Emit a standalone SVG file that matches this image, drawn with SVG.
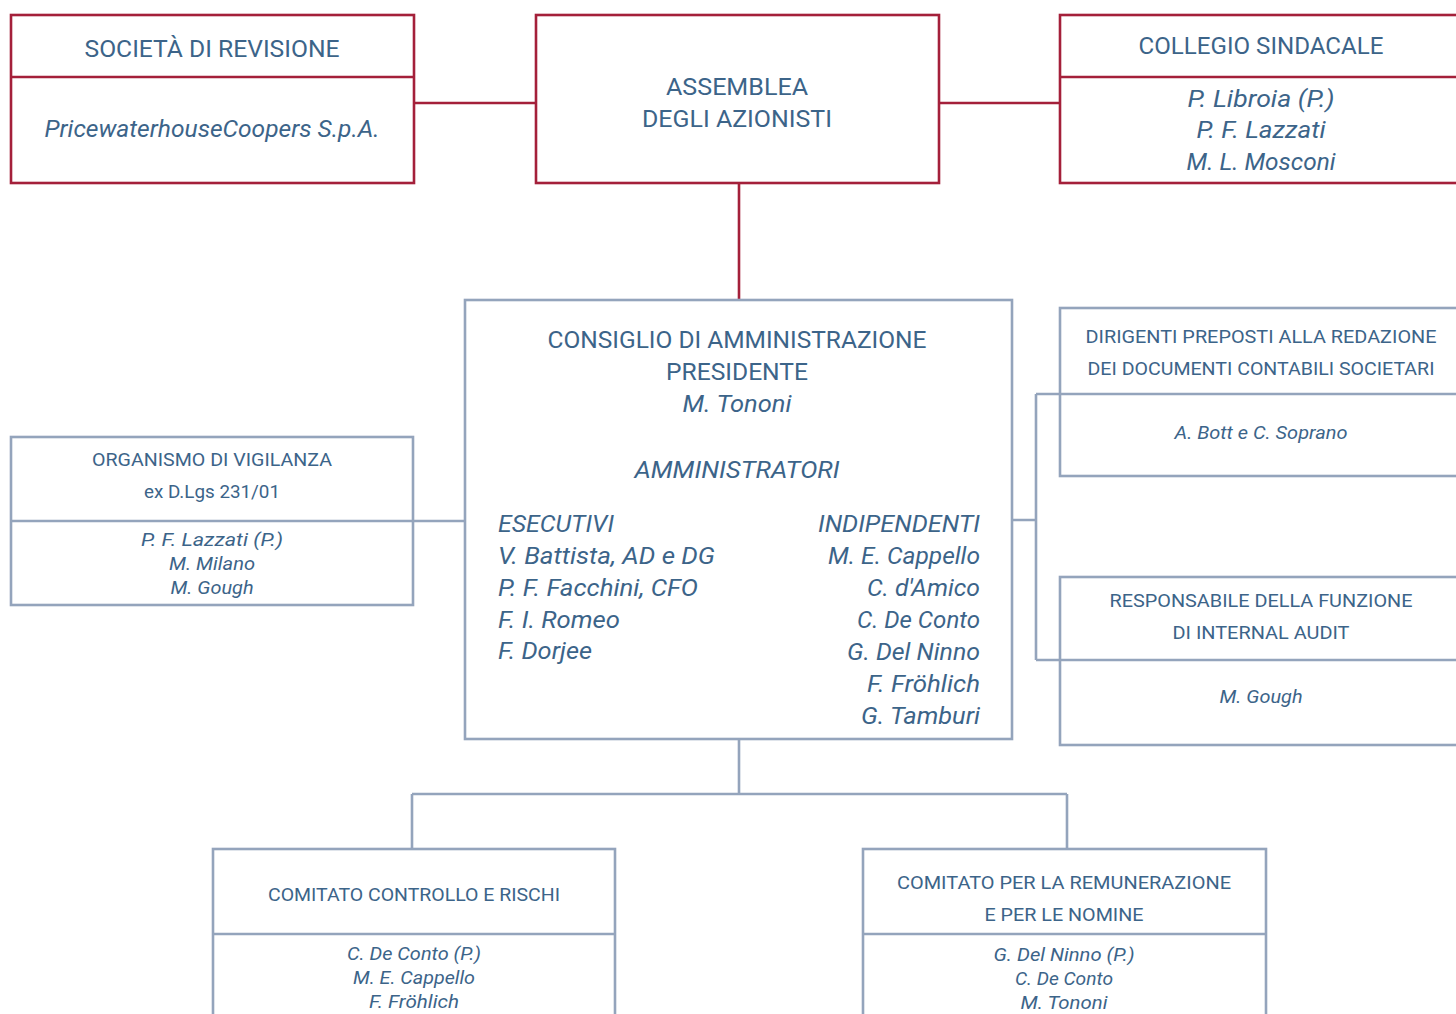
<svg xmlns="http://www.w3.org/2000/svg" width="1456" height="1014" viewBox="0 0 1456 1014">
<style>
.t{font-family:Roboto,"Open Sans","Liberation Sans",sans-serif;fill:#3c6489;text-anchor:middle}
.e{text-anchor:end}
.s{text-anchor:start}
.i{font-style:italic}
.l{font-size:24px}
.m{font-size:22px}
.n{font-size:19px}
.r{fill:#fff;stroke:#a4203a;stroke-width:2.6}
.rl{fill:none;stroke:#a4203a;stroke-width:2.6}
.b{fill:#fff;stroke:#94a4bc;stroke-width:2.6}
.bl{fill:none;stroke:#94a4bc;stroke-width:2.6}
</style>
<rect width="1456" height="1014" fill="#fff"/>
<g id="connectors">
<path class="rl" d="M414 103H536M939 103H1060M739 183V300"/>
<path class="bl" d="M413 521H465M1012 520H1036M1036 394V660M1036 394H1060M1036 660H1060M739 739V794M412 794H1067M412 794V849M1067 794V849"/>
</g>
<g id="societa-revisione">
<rect class="r" x="11" y="15" width="403" height="168"/>
<path class="rl" d="M11 77H414"/>
<text class="t l" x="212" y="57" textLength="255" lengthAdjust="spacingAndGlyphs">SOCIETÀ DI REVISIONE</text>
<text class="t l i" x="212" y="137" textLength="335" lengthAdjust="spacingAndGlyphs">PricewaterhouseCoopers S.p.A.</text>
</g>
<g id="assemblea">
<rect class="r" x="536" y="15" width="403" height="168"/>
<text class="t l" x="737" y="95" textLength="142" lengthAdjust="spacingAndGlyphs">ASSEMBLEA</text>
<text class="t l" x="737" y="127" textLength="190" lengthAdjust="spacingAndGlyphs">DEGLI AZIONISTI</text>
</g>
<g id="collegio-sindacale">
<rect class="r" x="1060" y="15" width="420" height="168"/>
<path class="rl" d="M1060 77H1456"/>
<text class="t l" x="1261" y="54" textLength="245" lengthAdjust="spacingAndGlyphs">COLLEGIO SINDACALE</text>
<text class="t l i" x="1261" y="107" textLength="147" lengthAdjust="spacingAndGlyphs">P. Libroia (P.)</text>
<text class="t l i" x="1261" y="138" textLength="129" lengthAdjust="spacingAndGlyphs">P. F. Lazzati</text>
<text class="t l i" x="1261" y="170" textLength="149" lengthAdjust="spacingAndGlyphs">M. L. Mosconi</text>
</g>
<g id="consiglio">
<rect class="b" x="465" y="300" width="547" height="439"/>
<text class="t l" x="737" y="348" textLength="379" lengthAdjust="spacingAndGlyphs">CONSIGLIO DI AMMINISTRAZIONE</text>
<text class="t l" x="737" y="380" textLength="142" lengthAdjust="spacingAndGlyphs">PRESIDENTE</text>
<text class="t l i" x="737" y="412" textLength="109" lengthAdjust="spacingAndGlyphs">M. Tononi</text>
<text class="t l i" x="737" y="478" textLength="205" lengthAdjust="spacingAndGlyphs">AMMINISTRATORI</text>
<text class="t l i s" x="498" y="532" textLength="116" lengthAdjust="spacingAndGlyphs">ESECUTIVI</text>
<text class="t l i s" x="498" y="564" textLength="217" lengthAdjust="spacingAndGlyphs">V. Battista, AD e DG</text>
<text class="t l i s" x="498" y="596" textLength="200" lengthAdjust="spacingAndGlyphs">P. F. Facchini, CFO</text>
<text class="t l i s" x="498" y="628" textLength="122" lengthAdjust="spacingAndGlyphs">F. I. Romeo</text>
<text class="t l i s" x="498" y="659" textLength="94" lengthAdjust="spacingAndGlyphs">F. Dorjee</text>
<text class="t l i e" x="980" y="532" textLength="162" lengthAdjust="spacingAndGlyphs">INDIPENDENTI</text>
<text class="t l i e" x="980" y="564" textLength="152" lengthAdjust="spacingAndGlyphs">M. E. Cappello</text>
<text class="t l i e" x="980" y="596" textLength="113" lengthAdjust="spacingAndGlyphs">C. d'Amico</text>
<text class="t l i e" x="980" y="628" textLength="123" lengthAdjust="spacingAndGlyphs">C. De Conto</text>
<text class="t l i e" x="980" y="660" textLength="133" lengthAdjust="spacingAndGlyphs">G. Del Ninno</text>
<text class="t l i e" x="980" y="692" textLength="113" lengthAdjust="spacingAndGlyphs">F. Fröhlich</text>
<text class="t l i e" x="980" y="724" textLength="119" lengthAdjust="spacingAndGlyphs">G. Tamburi</text>
</g>
<g id="organismo-vigilanza">
<rect class="b" x="11" y="437" width="402" height="168"/>
<path class="bl" d="M11 521H413"/>
<text class="t n" x="212" y="466" textLength="240" lengthAdjust="spacingAndGlyphs">ORGANISMO DI VIGILANZA</text>
<text class="t n" x="212" y="498" textLength="136" lengthAdjust="spacingAndGlyphs">ex D.Lgs 231/01</text>
<text class="t n i" x="212" y="546" textLength="142" lengthAdjust="spacingAndGlyphs">P. F. Lazzati (P.)</text>
<text class="t n i" x="212" y="570" textLength="86" lengthAdjust="spacingAndGlyphs">M. Milano</text>
<text class="t n i" x="212" y="594" textLength="83" lengthAdjust="spacingAndGlyphs">M. Gough</text>
</g>
<g id="dirigenti-preposti">
<rect class="b" x="1060" y="308" width="420" height="168"/>
<path class="bl" d="M1060 394H1456"/>
<text class="t n" x="1261" y="343" textLength="351" lengthAdjust="spacingAndGlyphs">DIRIGENTI PREPOSTI ALLA REDAZIONE</text>
<text class="t n" x="1261" y="375" textLength="347" lengthAdjust="spacingAndGlyphs">DEI DOCUMENTI CONTABILI SOCIETARI</text>
<text class="t n i" x="1261" y="439" textLength="173" lengthAdjust="spacingAndGlyphs">A. Bott e C. Soprano</text>
</g>
<g id="internal-audit">
<rect class="b" x="1060" y="577" width="420" height="168"/>
<path class="bl" d="M1060 660H1456"/>
<text class="t n" x="1261" y="607" textLength="303" lengthAdjust="spacingAndGlyphs">RESPONSABILE DELLA FUNZIONE</text>
<text class="t n" x="1261" y="639" textLength="177" lengthAdjust="spacingAndGlyphs">DI INTERNAL AUDIT</text>
<text class="t n i" x="1261" y="703" textLength="83" lengthAdjust="spacingAndGlyphs">M. Gough</text>
</g>
<g id="comitato-controllo-rischi">
<rect class="b" x="213" y="849" width="402" height="200"/>
<path class="bl" d="M213 934H615"/>
<text class="t n" x="414" y="901" textLength="292" lengthAdjust="spacingAndGlyphs">COMITATO CONTROLLO E RISCHI</text>
<text class="t n i" x="414" y="960" textLength="134" lengthAdjust="spacingAndGlyphs">C. De Conto (P.)</text>
<text class="t n i" x="414" y="984" textLength="122" lengthAdjust="spacingAndGlyphs">M. E. Cappello</text>
<text class="t n i" x="414" y="1008" textLength="90" lengthAdjust="spacingAndGlyphs">F. Fröhlich</text>
</g>
<g id="comitato-remunerazione">
<rect class="b" x="863" y="849" width="403" height="200"/>
<path class="bl" d="M863 934H1266"/>
<text class="t n" x="1064" y="889" textLength="334" lengthAdjust="spacingAndGlyphs">COMITATO PER LA REMUNERAZIONE</text>
<text class="t n" x="1064" y="921" textLength="159" lengthAdjust="spacingAndGlyphs">E PER LE NOMINE</text>
<text class="t n i" x="1064" y="961" textLength="141" lengthAdjust="spacingAndGlyphs">G. Del Ninno (P.)</text>
<text class="t n i" x="1064" y="985" textLength="98" lengthAdjust="spacingAndGlyphs">C. De Conto</text>
<text class="t n i" x="1064" y="1009" textLength="87" lengthAdjust="spacingAndGlyphs">M. Tononi</text>
</g>
</svg>
